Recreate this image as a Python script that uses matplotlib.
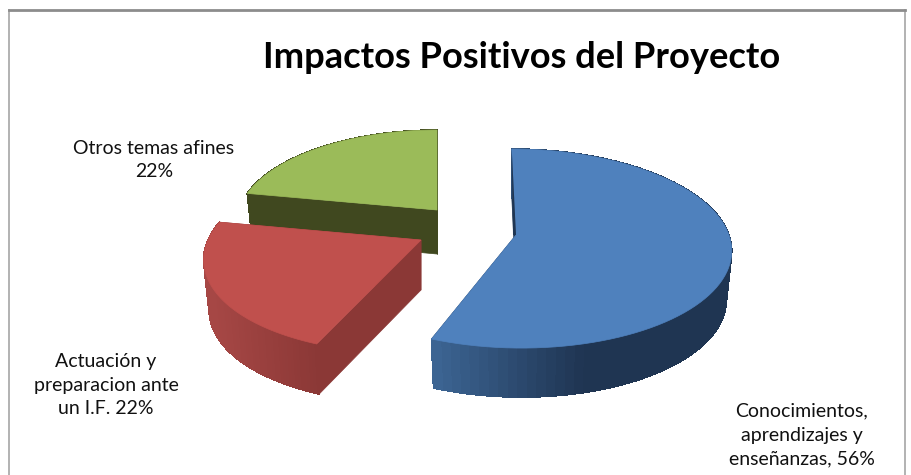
import numpy as np
import matplotlib
matplotlib.use("Agg")
import matplotlib.pyplot as plt
from matplotlib.collections import PolyCollection
from matplotlib.colors import to_rgb

plt.rcParams['font.family'] = ['Lato', 'DejaVu Sans']

title = "Impactos Positivos del Proyecto"
categories = ["Conocimientos,\naprendizajes y\nenseñanzas, 56%",
              "Actuación y\npreparacion ante\nun I.F. 22%",
              "Otros temas afines\n22%"]
values = [56, 22, 22]

# where each exploded slice sits on the picture
apex = [(516, 235), (421, 240), (437, 210)]
scale = [1.0, 1.0, 0.93]
shear = [0.05, -0.14, 0.0]
depth = [49, 50, 44]
top_colors = ["#4f81bd", "#c0504d", "#9bbb59"]
face_colors = ["#1f3552", "#8b3836", "#40481f"]
# gradient of the round side, from the right x to the left x
side_stops = [((587, 430), ("#1f3552", "#3e6797")),
              ((318, 212), ("#8b3836", "#a64745")),
              ((437, 247), ("#40481f", "#40481f"))]
label_pos = [(802, 435), (106, 385), (154, 160)]

RX, RY, K = 213, 97.7, 0.136
RIM = 0.975


def project(theta, i):
    # theta clockwise from the top, a simple perspective with the back smaller
    s, c = np.sin(theta), np.cos(theta)
    d = 1 + K * c
    y = -RY * c / d * scale[i]
    x = RX * s / d * scale[i] + shear[i] * y
    return apex[i][0] + x, apex[i][1] + y


fig = plt.figure(figsize=(9.12, 4.75), dpi=100)
ax = fig.add_axes([0, 0, 1, 1])
ax.set_xlim(0, 912)
ax.set_ylim(475, 0)
ax.axis('off')

# chart frame, the bottom edge is cut off in the picture
ax.plot([9, 9], [475, 10], color="#a6a6a6", lw=1.2)
ax.plot([905, 905], [475, 10], color="#a6a6a6", lw=1.2)
ax.plot([9, 905], [10, 10], color="#8c8c8c", lw=2)

edges = np.cumsum([0] + values) / sum(values) * 2 * np.pi

for i in [2, 1, 0]:
    th = np.linspace(edges[i], edges[i + 1], 90)
    x, y = project(th, i)
    ax0, ay0 = apex[i]
    xb = ax0 + (x - ax0) * RIM
    yb = y + depth[i]

    # flat cut faces
    ax.fill([x[-1], ax0, ax0, xb[-1]], [y[-1], ay0, ay0 + depth[i], yb[-1]],
            color=face_colors[i], lw=0.5, zorder=i * -3 + 10)
    ax.fill([x[0], ax0, ax0, xb[0]], [y[0], ay0, ay0 + depth[i], yb[0]],
            color=face_colors[i], lw=0.5, zorder=i * -3 + 10)

    # round side as small quads with a shaded colour
    (x_right, x_left), (c_right, c_left) = side_stops[i]
    quads, cols = [], []
    c_r, c_l = np.array(to_rgb(c_right)), np.array(to_rgb(c_left))
    for j in range(len(th) - 1):
        quads.append([(x[j], y[j]), (x[j + 1], y[j + 1]),
                      (xb[j + 1], yb[j + 1]), (xb[j], yb[j])])
        t = np.clip((x_right - x[j]) / (x_right - x_left), 0, 1)
        cols.append(c_r + (c_l - c_r) * t)
    ax.add_collection(PolyCollection(quads, facecolors=cols, edgecolors=cols,
                                     linewidths=0.5, antialiaseds=False,
                                     zorder=i * -3 + 10))

    # top of the slice
    ax.fill(np.r_[ax0, x], np.r_[ay0, y], color=top_colors[i], lw=0.5,
            zorder=i * -3 + 11)

    ax.text(label_pos[i][0], label_pos[i][1], categories[i], ha='center',
            va='center', fontsize=14, color="#111111", linespacing=1.49,
            zorder=20)

# thin dark sliver of the blue slice's first cut
x0, y0 = project(edges[0], 0)
ax.fill([x0, apex[0][0], apex[0][0] - 3], [y0, apex[0][1], apex[0][1]],
        color=face_colors[0], lw=0, zorder=12)

ax.text(522, 57, title, ha='center', va='center', fontsize=26.1,
        fontweight='bold', color="black")

fig.savefig("out.png", dpi=100)
